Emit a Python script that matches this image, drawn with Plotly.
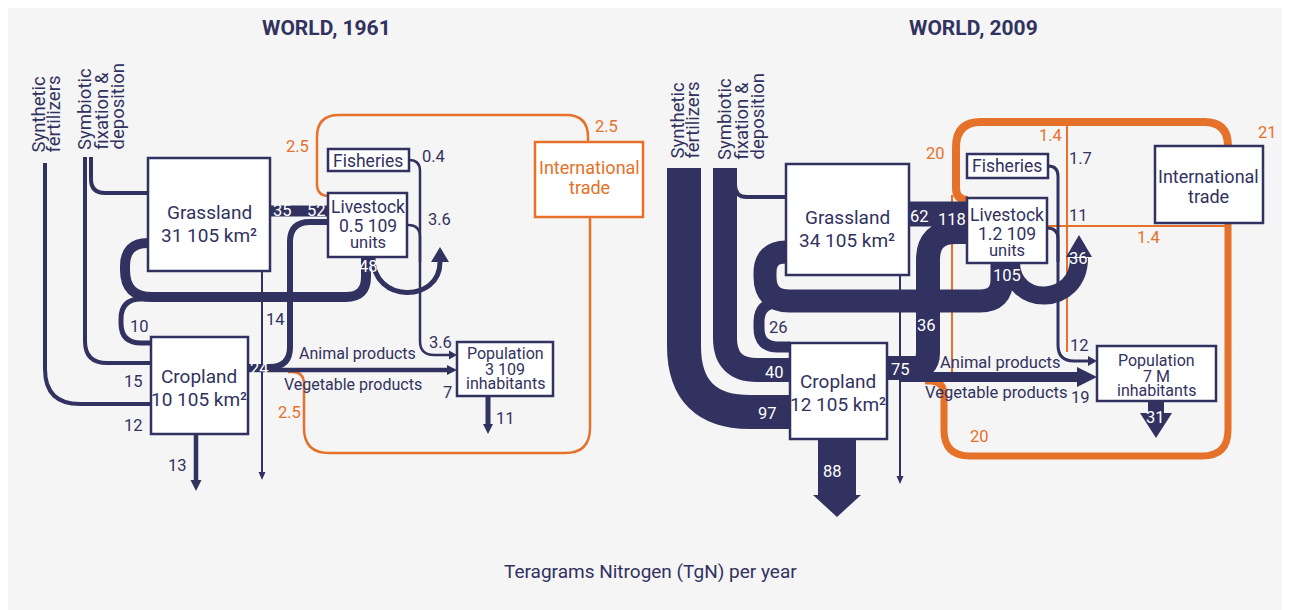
import math
import plotly.graph_objects as go

# ---------------- DATA ----------------
panel_titles = ["WORLD, 1961", "WORLD, 2009"]
synthetic_label = ["Synthetic", "fertilizers"]
symbiotic_label = ["Symbiotic", "fixation &", "deposition"]
grassland_area = ["31 105 km²", "34 105 km²"]
cropland_area = ["10 105 km²", "12 105 km²"]
livestock_units = ["0.5 109", "1.2 109"]
population_size = ["3 109", "7 M"]
product_labels = ["Animal products", "Vegetable products"]
caption = "Teragrams Nitrogen (TgN) per year"

flow_keys_1961 = ["grass_live", "live_in", "manure", "manure_crop", "feed", "crop_out",
                  "symb_crop", "synth_crop", "crop_loss", "veg_food", "live_food",
                  "fish_food", "food_total", "pop_loss", "import_live", "import_trade",
                  "export_crop"]
flow_values_1961 = [35, 52, 48, 10, 14, 24, 15, 12, 13, 7, 3.6, 0.4, 3.6, 11, 2.5, 2.5, 2.5]

flow_keys_2009 = ["grass_live", "live_in", "manure", "manure_crop", "feed", "live_loss",
                  "symb_crop", "synth_crop", "crop_out", "crop_loss", "veg_food",
                  "food_total", "fish_food", "live_food", "fish_import", "live_export",
                  "pop_loss", "import_live", "import_trade", "export_crop"]
flow_values_2009 = [62, 118, 105, 26, 36, 36, 40, 97, 75, 88, 19, 12, 1.7, 11, 1.4, 1.4,
                    31, 20, 21, 20]

# ---------------- STYLE ----------------
NAVY = "#323260"
ORANGE = "#e6712a"
WHITE = "#ffffff"
BG = "#f5f5f5"
FONT = "Roboto, sans-serif"
PAGE_OFFSET = 8  # the page body margin; geometry below is in page pixels


def fmt(v):
    return f"{v:g}"


def rounded_path(pts, radii):
    n = len(pts)
    if isinstance(radii, (int, float)):
        radii = [radii] * max(n - 2, 0)
    d = f"M {pts[0][0]},{pts[0][1]}"
    for i in range(1, n - 1):
        ax, ay = pts[i - 1]
        px, py = pts[i]
        bx, by = pts[i + 1]
        la = math.hypot(ax - px, ay - py)
        lb = math.hypot(bx - px, by - py)
        lim_a = la if i == 1 else la / 2
        lim_b = lb if i == n - 2 else lb / 2
        r = min(radii[i - 1], lim_a, lim_b)
        p1 = (px + (ax - px) * r / la, py + (ay - py) * r / la)
        p2 = (px + (bx - px) * r / lb, py + (by - py) * r / lb)
        d += f" L {p1[0]:.2f},{p1[1]:.2f} Q {px},{py} {p2[0]:.2f},{p2[1]:.2f}"
    d += f" L {pts[-1][0]},{pts[-1][1]}"
    return d


def u_path(x1, x2, ytop1, ytop2, ybottom):
    c = ytop1 + (ybottom - ytop1) / 0.75
    return f"M {x1},{ytop1} C {x1},{c:.1f} {x2},{c:.1f} {x2},{ytop2}"


def head_path(tx, ty, direction, hw, ln):
    if direction == "right":
        pts = [(tx, ty), (tx - ln, ty - hw), (tx - ln, ty + hw)]
    elif direction == "down":
        pts = [(tx, ty), (tx - hw, ty - ln), (tx + hw, ty - ln)]
    else:  # up
        pts = [(tx, ty), (tx - hw, ty + ln), (tx + hw, ty + ln)]
    return "M " + " L ".join(f"{x},{y}" for x, y in pts) + " Z"


# ---------------- GEOMETRY (page pixels) ----------------
# route: (key, points, corner radii, stroke width, colour, arrow head or None)
ROUTES = [
    # ---- 1961 ----
    ("export_crop", [(288, 372), (304, 372), (304, 453), (590, 453), (590, 217)], [12, 25, 25], 2.5, ORANGE, None),
    ("import_live", [(330, 196), (317, 196), (317, 115), (588, 115), (588, 142)], [12, 22, 22], 2.5, ORANGE, None),
    ("synth_crop", [(45, 163), (45, 404), (151, 404)], [35], 4, NAVY, None),
    ("symb_crop", [(85, 157), (85, 363), (151, 363)], [22], 4, NAVY, None),
    ("symb_grass", [(91, 157), (91, 193), (148, 193)], [14], 4, NAVY, None),
    ("grass_live", [(270, 211), (328, 211)], [], 11, NAVY, None),
    ("feed", [(248, 367), (290, 367), (290, 222), (328, 222)], [20, 20], 6, NAVY, None),
    ("veg_food", [(248, 370), (449, 370)], [], 4.5, NAVY, (457, 370, "right", 5, 10)),
    ("manure", [(366, 257), (366, 297), (125, 297), (125, 243), (148, 243)], [20, 27, 27], 10, NAVY, None),
    ("manure_crop", [(150, 299), (121, 299), (121, 343), (151, 343)], [20, 20], 5, NAVY, None),
    ("fish_food", [(409, 160), (420, 160), (420, 355), (450, 355)], [12, 14], 2.5, NAVY, (457, 355, "right", 4.5, 8)),
    ("live_food", [(407, 225), (420, 225), (420, 262)], [12], 2.5, NAVY, None),
    ("pop_loss", [(488, 396), (488, 425)], [], 5, NAVY, (488, 434, "down", 5, 10)),
    ("crop_loss", [(196, 434), (196, 482)], [], 4.5, NAVY, (196, 491, "down", 5.5, 11)),
    ("grass_loss", [(262, 271), (262, 472)], [], 2, NAVY, (262, 480, "down", 3.5, 8)),
    # ---- 2009 ----
    ("fish_import", [(1067, 122), (1067, 352)], [], 2, ORANGE, None),
    ("live_export", [(1047, 226), (1228, 226)], [], 2, ORANGE, None),
    ("crop_import", [(952, 195), (952, 372)], [], 2, ORANGE, None),
    ("export_crop", [(925, 381), (944, 381), (944, 456), (1228, 456), (1228, 223)], [14, 26, 26], 7, ORANGE, None),
    ("import_live", [(1228, 146), (1228, 122), (956, 122), (956, 200), (968, 200)], [25, 25, 12], 8, ORANGE, None),
    ("synth_crop", [(684, 168), (684, 412), (790, 412)], [66], 34, NAVY, None),
    ("symb_crop", [(725, 168), (725, 370), (790, 370)], [32], 24, NAVY, None),
    ("symb_grass", [(735, 180), (735, 197), (786, 197)], [12], 4, NAVY, None),
    ("grass_live", [(909, 214), (967, 214)], [], 25, NAVY, None),
    ("feed", [(887, 368), (928, 368), (928, 232), (967, 232)], [15, 28], 24, NAVY, None),
    ("veg_food", [(900, 377), (1079, 377)], [], 10, NAVY, (1097, 377, "right", 10, 20)),
    ("manure", [(1002, 263), (1002, 301), (765, 301), (765, 252), (786, 252)], [22, 24.5, 24.5], 23, NAVY, None),
    ("manure_crop", [(800, 303), (759, 303), (759, 347), (790, 347)], [19, 19], 11, NAVY, None),
    ("fish_food", [(1048, 166), (1058, 166), (1058, 361), (1088, 361)], [10, 16], 3, NAVY, (1097, 361, "right", 5, 9)),
    ("live_food", [(1047, 228), (1058, 228), (1058, 262)], [11], 3, NAVY, None),
    ("crop_loss", [(837, 439), (837, 497)], [], 38, NAVY, (837, 517, "down", 24, 22)),
    ("pop_loss", [(1156, 401), (1156, 414)], [], 16, NAVY, (1156, 438, "down", 16, 25)),
    ("grass_loss", [(900, 275), (900, 476)], [], 2, NAVY, (900, 484, "down", 3.5, 8)),
]
# U-shaped loss arrows (livestock volatilisation)
U_ARROWS = [
    ((373, 440, 258, 262, 292), 5, (440, 247, "up", 9, 15)),
    ((1011, 1079, 262, 258, 296), 18, (1079, 235, "up", 13, 22)),
]

BOXES = [  # (x0, y0, x1, y1, border colour)
    (148, 158, 270, 271, NAVY), (151, 337, 248, 434, NAVY), (328, 193, 407, 257, NAVY),
    (328, 149, 409, 171, NAVY), (535, 142, 643, 217, ORANGE), (457, 342, 553, 396, NAVY),
    (786, 164, 909, 275, NAVY), (790, 343, 887, 439, NAVY), (967, 198, 1047, 263, NAVY),
    (967, 154, 1048, 178, NAVY), (1155, 146, 1263, 223, NAVY), (1097, 346, 1216, 401, NAVY),
]

LABELS_1961 = [
    ("grass_live", 282, 210, WHITE), ("live_in", 316, 210, WHITE), ("manure", 368, 266, WHITE),
    ("manure_crop", 139, 326, NAVY), ("feed", 275, 319, NAVY), ("crop_out", 259, 368, WHITE),
    ("symb_crop", 133, 381, NAVY), ("synth_crop", 133, 425, NAVY), ("crop_loss", 177, 465, NAVY),
    ("veg_food", 447, 392, NAVY), ("live_food", 439, 219, NAVY), ("fish_food", 433, 156, NAVY),
    ("food_total", 440, 342, NAVY), ("pop_loss", 505, 418, NAVY),
    ("import_live", 297, 146, ORANGE), ("import_trade", 606, 126, ORANGE), ("export_crop", 289, 412, ORANGE),
]
LABELS_2009 = [
    ("grass_live", 919, 216, WHITE), ("live_in", 952, 219, WHITE), ("manure", 1007, 275, WHITE),
    ("manure_crop", 778, 327, NAVY), ("feed", 926, 325, WHITE), ("live_loss", 1078, 258, WHITE),
    ("symb_crop", 774, 372, WHITE), ("synth_crop", 767, 413, WHITE), ("crop_out", 900, 369, WHITE),
    ("crop_loss", 832, 471, WHITE), ("veg_food", 1080, 397, NAVY), ("food_total", 1079, 345, NAVY),
    ("fish_food", 1080, 158, NAVY), ("live_food", 1078, 215, NAVY), ("fish_import", 1050, 135, ORANGE),
    ("live_export", 1148, 237, ORANGE), ("pop_loss", 1155, 417, WHITE), ("import_live", 935, 153, ORANGE),
    ("import_trade", 1267, 132, ORANGE), ("export_crop", 979, 436, ORANGE),
]

# ---------------- BUILD ----------------
shapes = []
# orange routes first, navy on top
for layer_colour in (ORANGE, NAVY):
    for key, pts, radii, w, col, head in ROUTES:
        if col != layer_colour:
            continue
        shapes.append(dict(type="path", xref="x", yref="y", path=rounded_path(pts, radii),
                           line=dict(color=col, width=w), fillcolor="rgba(0,0,0,0)"))
for (x1, x2, yt1, yt2, yb), w, head in U_ARROWS:
    shapes.append(dict(type="path", xref="x", yref="y", path=u_path(x1, x2, yt1, yt2, yb),
                       line=dict(color=NAVY, width=w), fillcolor="rgba(0,0,0,0)"))
for x0, y0, x1, y1, col in BOXES:
    shapes.append(dict(type="rect", xref="x", yref="y", x0=x0, y0=y0, x1=x1, y1=y1,
                       line=dict(color=col, width=2.5), fillcolor=WHITE))
heads = [h for *_, h in ROUTES if h] + [h for *_, h in U_ARROWS]
for tx, ty, dr, hw, ln in heads:
    shapes.append(dict(type="path", xref="x", yref="y", path=head_path(tx, ty, dr, hw, ln),
                       line=dict(width=0), fillcolor=NAVY))

ann = []


def text(t, x, y, size=16, color=NAVY, angle=0, xanchor="center", yanchor="middle", weight="normal"):
    ann.append(dict(text=t, x=x, y=y, xref="x", yref="y", showarrow=False, textangle=angle,
                    xanchor=xanchor, yanchor=yanchor,
                    font=dict(family=FONT, size=size, color=color, weight=weight)))


# titles & caption
text(panel_titles[0], 326, 28, size=21, weight="bold")
text(panel_titles[1], 973, 28, size=21, weight="bold")
text(caption, 650, 571, size=19)

# rotated source labels
for base_x, bottom in ((38, 155), (677, 161)):
    for i, line in enumerate(synthetic_label):
        text(line, base_x + 15 * i, bottom, size=18.5, angle=-90, yanchor="bottom")
for base_x, bottom in ((85, 152), (725, 162)):
    for i, line in enumerate(symbiotic_label):
        text(line, base_x + 16 * i, bottom, size=18.5, angle=-90, yanchor="bottom")

# node labels
for p, (gx, gy, cx, cy, lx, ly, fx, fy, tx, ty, px, py, tcol) in enumerate([
    (209, 212, 199, 376, 368, 207, 368, 161, 589, 167, 505, 353, ORANGE),
    (847, 217, 838, 381, 1007, 215, 1007, 166, 1208, 176, 1156, 360, NAVY),
]):
    text("Grassland", gx, gy, size=19)
    text(grassland_area[p], gx, gy + 23, size=19)
    text("Cropland", cx, cy, size=19)
    text(cropland_area[p], cx, cy + 23, size=19)
    text("Livestock", lx, ly, size=17.5)
    text(livestock_units[p], lx, ly + 19, size=17.5)
    text("units", lx, ly + 35, size=16.5)
    text("Fisheries", fx, fy, size=17.5)
    text("International", tx, ty, size=18, color=tcol)
    text("trade", tx, ty + 20, size=18, color=tcol)
    text("Population", px, py, size=16)
    text(population_size[p], px, py + 16, size=16)
    text("inhabitants", px, py + 30, size=16)

text(product_labels[0], 357, 353, size=16)
text(product_labels[1], 353, 384, size=16)
text(product_labels[0], 1000, 362, size=16.5)
text(product_labels[1], 996, 392, size=16.5)

# flow values
vals61 = dict(zip(flow_keys_1961, flow_values_1961))
vals09 = dict(zip(flow_keys_2009, flow_values_2009))
for key, x, y, col in LABELS_1961:
    text(fmt(vals61[key]), x, y, size=16.5, color=col)
for key, x, y, col in LABELS_2009:
    text(fmt(vals09[key]), x, y, size=16.5, color=col)

W, H = 1290, 610
fig = go.Figure()
fig.add_trace(go.Scatter(x=[PAGE_OFFSET, W], y=[PAGE_OFFSET, H], mode="markers",
                         marker=dict(opacity=0), hoverinfo="skip", showlegend=False))
fig.update_layout(
    width=W, height=H, margin=dict(l=0, r=0, t=0, b=0),
    paper_bgcolor=BG, plot_bgcolor=BG, showlegend=False,
    xaxis=dict(range=[PAGE_OFFSET, W + PAGE_OFFSET], visible=False, fixedrange=True),
    yaxis=dict(range=[H + PAGE_OFFSET, PAGE_OFFSET], visible=False, fixedrange=True),
    shapes=shapes, annotations=ann,
)
fig.write_html("out.html")
